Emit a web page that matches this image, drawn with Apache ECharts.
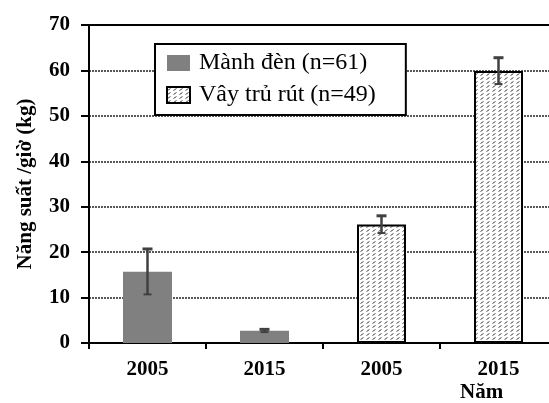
<!DOCTYPE html>
<html><head><meta charset="utf-8">
<script src="https://cdn.jsdelivr.net/npm/echarts@6/dist/echarts.min.js"></script>
<style>html,body{margin:0;padding:0;background:#fff}#c{width:549px;height:403px}</style>
</head><body><div id="c"></div>
<script>
const categories = ['2005', '2015', '2005', '2015'];
const seriesNames = ['Mành đèn (n=61)', 'Vây trủ rút (n=49)'];
const manhDen = [15.7, 2.7, '-', '-'];
const vayRut = ['-', '-', 26.1, 59.9];
const means = [15.7, 2.7, 26.1, 59.9];
const errors = [5.0, 0.3, 1.9, 2.9];
const yTicks = [0, 10, 20, 30, 40, 50, 60, 70];

const pc = document.createElement('canvas');
pc.width = 6; pc.height = 4;
const g = pc.getContext('2d');
g.fillStyle = '#fff'; g.fillRect(0, 0, 6, 4);
g.strokeStyle = '#444'; g.lineWidth = 1;
g.beginPath(); g.moveTo(0.5, 3.5); g.lineTo(3.5, 1.5); g.stroke();

const FONT = '"Liberation Serif", "DejaVu Serif", serif';
const chart = echarts.init(document.getElementById('c'), null, {renderer: 'canvas'});
chart.setOption({
  animation: false,
  grid: {left: 89, top: 25, bottom: 60, width: 468, containLabel: false, outerBoundsMode: 'none'},
  legend: {
    orient: 'vertical', left: 155, top: 44,
    padding: [7, 30, 8, 11], itemGap: 8, itemWidth: 23, itemHeight: 16, icon: 'rect',
    backgroundColor: '#fff', borderColor: '#000', borderWidth: 2,
    textStyle: {fontFamily: FONT, fontSize: 24, color: '#000', padding: [0, 0, 0, 4]},
    data: seriesNames
  },
  xAxis: [{
    type: 'category', data: categories, boundaryGap: true,
    axisLine: {lineStyle: {color: '#000', width: 2}},
    axisTick: {show: true, length: 6, lineStyle: {color: '#000', width: 2}},
    axisLabel: {fontFamily: FONT, fontWeight: 'bold', fontSize: 21, color: '#000', margin: 16}
  }, {
    type: 'category', data: categories, position: 'top',
    axisLine: {show: true, lineStyle: {color: '#000', width: 2}},
    axisTick: {show: false}, axisLabel: {show: false}
  }],
  yAxis: {
    type: 'value', min: 0, max: 70, interval: 10,
    name: 'Năng suất /giờ (kg)', nameLocation: 'middle', nameGap: 53,
    nameTextStyle: {fontFamily: FONT, fontWeight: 'bold', fontSize: 21, color: '#000'},
    axisLine: {show: true, lineStyle: {color: '#000', width: 2}},
    axisTick: {show: true, length: 8, lineStyle: {color: '#000', width: 2}},
    axisLabel: {fontFamily: FONT, fontWeight: 'bold', fontSize: 21, color: '#000', margin: 19,
      formatter: v => yTicks.includes(v) ? String(v) : ''},
    splitLine: {show: true, lineStyle: {color: '#222', width: 1.5, type: [2, 1]}}
  },
  series: [{
    name: seriesNames[0], type: 'bar', stack: 's', data: manhDen, barWidth: 49,
    itemStyle: {color: '#808080'}, z: 3
  }, {
    name: seriesNames[1], type: 'bar', stack: 's', data: vayRut, barWidth: 49,
    itemStyle: {color: {image: pc, repeat: 'repeat'}, borderColor: '#000', borderWidth: 2}, z: 3
  }, {
    type: 'custom', z: 5, silent: true,
    data: means.map((m, i) => [i, m - errors[i], m + errors[i]]),
    renderItem: function (params, api) {
      const lo = api.coord([api.value(0), api.value(1)]);
      const hi = api.coord([api.value(0), api.value(2)]);
      const x = hi[0];
      return {type: 'group', children: [
        {type: 'line', shape: {x1: x, y1: hi[1], x2: x, y2: lo[1]}, style: {stroke: '#404040', lineWidth: 2.5}},
        {type: 'line', shape: {x1: x - 5, y1: hi[1], x2: x + 5, y2: hi[1]}, style: {stroke: '#404040', lineWidth: 3}},
        {type: 'line', shape: {x1: x - 4, y1: lo[1], x2: x + 4, y2: lo[1]}, style: {stroke: '#404040', lineWidth: 2}}
      ]};
    }
  }],
  graphic: [{
    type: 'text', left: 460, top: 382,
    style: {text: 'Năm', fontFamily: FONT, fontWeight: 'bold', fontSize: 21, fill: '#000'}
  }]
});
</script></body></html>
